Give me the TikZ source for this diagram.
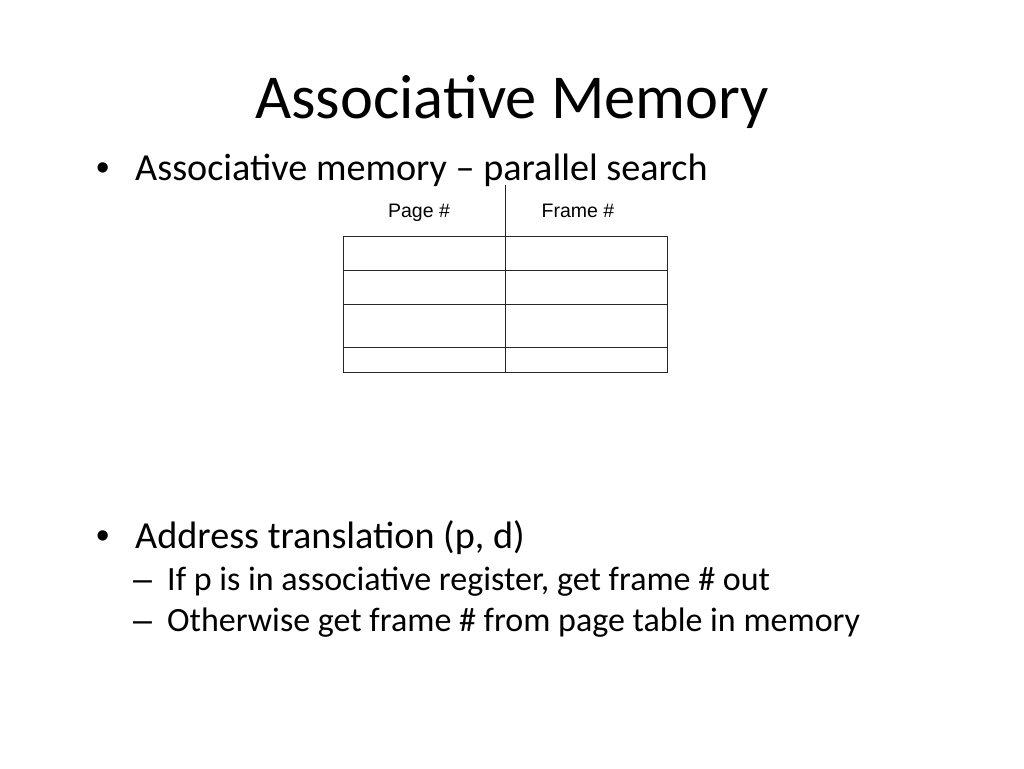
\documentclass[tikz,border=0pt]{standalone}
\usepackage{fontspec}
\setmainfont{Carlito}
\newfontfamily\arialf{Liberation Sans}
\begin{document}
\begin{tikzpicture}[x=1pt,y=-1pt,
  txt/.style={anchor=base west,inner sep=0pt,font=\fontsize{38.2}{44}\selectfont},
  sub/.style={anchor=base west,inner sep=0pt,font=\fontsize{34}{40}\selectfont},
  bul/.style={anchor=base west,inner sep=0pt,font=\arialf\fontsize{38}{44}\selectfont},
  dsh/.style={anchor=base west,inner sep=0pt,font=\arialf\fontsize{34}{40}\selectfont},
  lab/.style={anchor=base,inner sep=0pt,font=\arialf\fontsize{19.5}{23}\selectfont},
  grid/.style={line width=1pt,draw=black!85}]
\useasboundingbox[fill=white] (0,0) rectangle (1024,768);
\node[anchor=base,inner sep=0pt,font=\fontsize{62.5}{70}\selectfont] (title) at (512,118) {Associative Memory};
\node[bul] (b1) at (96,180) {•};
\node[txt] (t1) at (135,180) {Associative memory – parallel search};
\node[bul] (b2) at (96,548) {•};
\node[txt] (t2) at (135,548) {Address translation (p, d)};
\node[dsh] (d1) at (133,590) {–};
\node[sub] (s1) at (167,590) {If p is in associative register, get frame \# out};
\node[dsh] (d2) at (133,631) {–};
\node[sub] (s2) at (167,631) {Otherwise get frame \# from page table in memory};
\node[lab] (pg) at (419,217) {Page \#};
\node[lab] (fr) at (578,217) {Frame \#};
\coordinate (tl) at (343,236);
\coordinate (br) at (667,372);
\draw[grid] (tl) rectangle (br);
\draw[grid] (343,270) -- (667,270);
\draw[grid] (343,304) -- (667,304);
\draw[grid] (343,347) -- (667,347);
\draw[grid] (505,185) -- (505,372);
\end{tikzpicture}
\end{document}
